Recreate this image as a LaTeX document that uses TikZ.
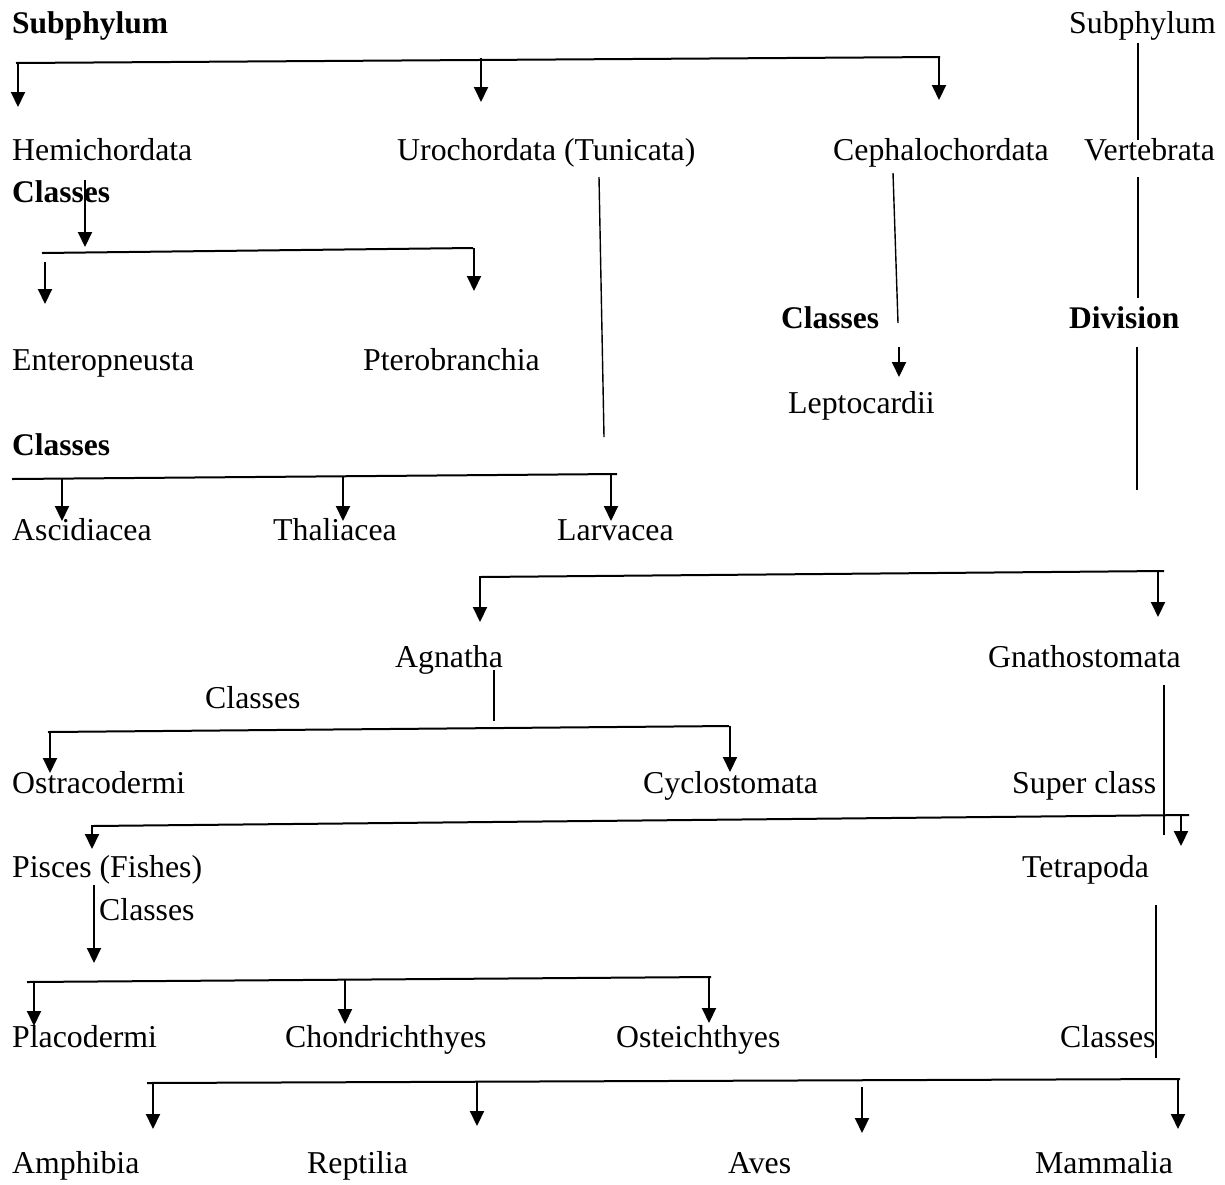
\documentclass[tikz,border=0pt]{standalone}
\usepackage{fontspec}
\setmainfont{Liberation Serif}
\usetikzlibrary{arrows.meta}

\tikzset{
  taxon/.style={anchor=base west, inner sep=0pt, font=\fontsize{31.8}{36}\selectfont},
  rank/.style={taxon, font=\fontsize{31.5}{36}\selectfont\bfseries},
  bar/.style={line width=2pt},
  stem/.style={line width=1.4pt},
  drop/.style={line width=2pt, -{Triangle[length=15pt, width=14pt]}}
}

\begin{document}
\begin{tikzpicture}[x=1pt, y=-1pt]
  \useasboundingbox (0,0) rectangle (1225,1184);

  % phylum level
  \node[rank]  (sub)    at (12,33)    {Subphylum};
  \node[taxon] (subr)   at (1069,33)  {Subphylum};
  \node[taxon] (hemi)   at (12,160)   {Hemichordata};
  \node[taxon] (uro)    at (397,160)  {Urochordata (Tunicata)};
  \node[taxon] (ceph)   at (833,160)  {Cephalochordata};
  \node[taxon] (vert)   at (1084,160) {Vertebrata};

  % hemichordata, cephalochordata, urochordata classes
  \node[rank]  (hcls)   at (12,202)   {Classes};
  \node[taxon] (entero) at (12,370)   {Enteropneusta};
  \node[taxon] (ptero)  at (363,370)  {Pterobranchia};
  \node[rank]  (ccls)   at (781,328)  {Classes};
  \node[rank]  (div)    at (1069,328) {Division};
  \node[taxon] (lepto)  at (788,413)  {Leptocardii};
  \node[rank]  (ucls)   at (12,455)   {Classes};
  \node[taxon] (asci)   at (12,540)   {Ascidiacea};
  \node[taxon] (thali)  at (273,540)  {Thaliacea};
  \node[taxon] (larva)  at (557,540)  {Larvacea};

  % vertebrata
  \node[taxon] (agna)   at (395,667)  {Agnatha};
  \node[taxon] (gnath)  at (988,667)  {Gnathostomata};
  \node[taxon] (acls)   at (205,708)  {Classes};
  \node[taxon] (ostra)  at (12,793)   {Ostracodermi};
  \node[taxon] (cyclo)  at (643,793)  {Cyclostomata};
  \node[taxon] (super)  at (1012,793) {Super class};
  \node[taxon] (pisc)   at (12,877)   {Pisces (Fishes)};
  \node[taxon] (tetra)  at (1022,877) {Tetrapoda};
  \node[taxon] (pcls)   at (99,920)   {Classes};
  \node[taxon] (placo)  at (12,1047)  {Placodermi};
  \node[taxon] (chond)  at (285,1047) {Chondrichthyes};
  \node[taxon] (oste)   at (616,1047) {Osteichthyes};
  \node[taxon] (tcls)   at (1060,1047) {Classes};
  \node[taxon] (amph)   at (12,1173)  {Amphibia};
  \node[taxon] (rept)   at (307,1173) {Reptilia};
  \node[taxon] (aves)   at (728,1173) {Aves};
  \node[taxon] (mamm)   at (1035,1173) {Mammalia};

  % horizontal bars
  \foreach \n/\xa/\ya/\xb/\yb in {phyl/16/63/940/57, hemib/42/253/473/248,
      urob/12/479/617/474, vertb/480/577/1164/571, agnab/48/732/729/726,
      gnathb/92/826/1189/815, piscb/27/982/711/977, tetrab/147/1083/1180/1079}{
    \coordinate (\n-l) at (\xa,\ya);
    \coordinate (\n-r) at (\xb,\yb);
    \draw[bar] (\n-l) -- (\n-r);
  }

  % plain stems
  \foreach \n/\xa/\ya/\xb/\yb in {vsub/1138/43/1138/140, vdiv/1138/177/1138/298,
      vdivb/1137/347/1137/490, ustem/599/177/604/437, cstem/893/173/898/323,
      astem/494/670/494/721, gstem/1164/685/1164/835, tstem/1156/905/1156/1058}{
    \coordinate (\n-a) at (\xa,\ya);
    \coordinate (\n-b) at (\xb,\yb);
    \draw[stem] (\n-a) -- (\n-b);
  }

  % arrows
  \foreach \n/\x/\ya/\yb in {hemi/18/63/107, uro/481/58/102, ceph/939/57/100,
      hcls/85/180/247, entero/45/262/304, ptero/474/248/291,
      lepto/899/347/377,
      asci/62/478/521, thali/343/476/521, larva/611/474/521,
      agna/480/576/622, gnath/1158/571/617,
      ostra/50/731/773, cyclo/730/726/772,
      pisc/92/825/849, tetra/1181/815/846,
      pcls/94/885/963,
      placo/34/982/1026, chond/345/980/1024, oste/709/977/1023,
      amph/153/1082/1129, rept/477/1081/1126, aves/862/1087/1133, mamm/1178/1080/1129}{
    \coordinate (\n-top) at (\x,\ya);
    \coordinate (\n-tip) at (\x,\yb);
    \draw[drop] (\n-top) -- (\n-tip);
  }
\end{tikzpicture}
\end{document}
